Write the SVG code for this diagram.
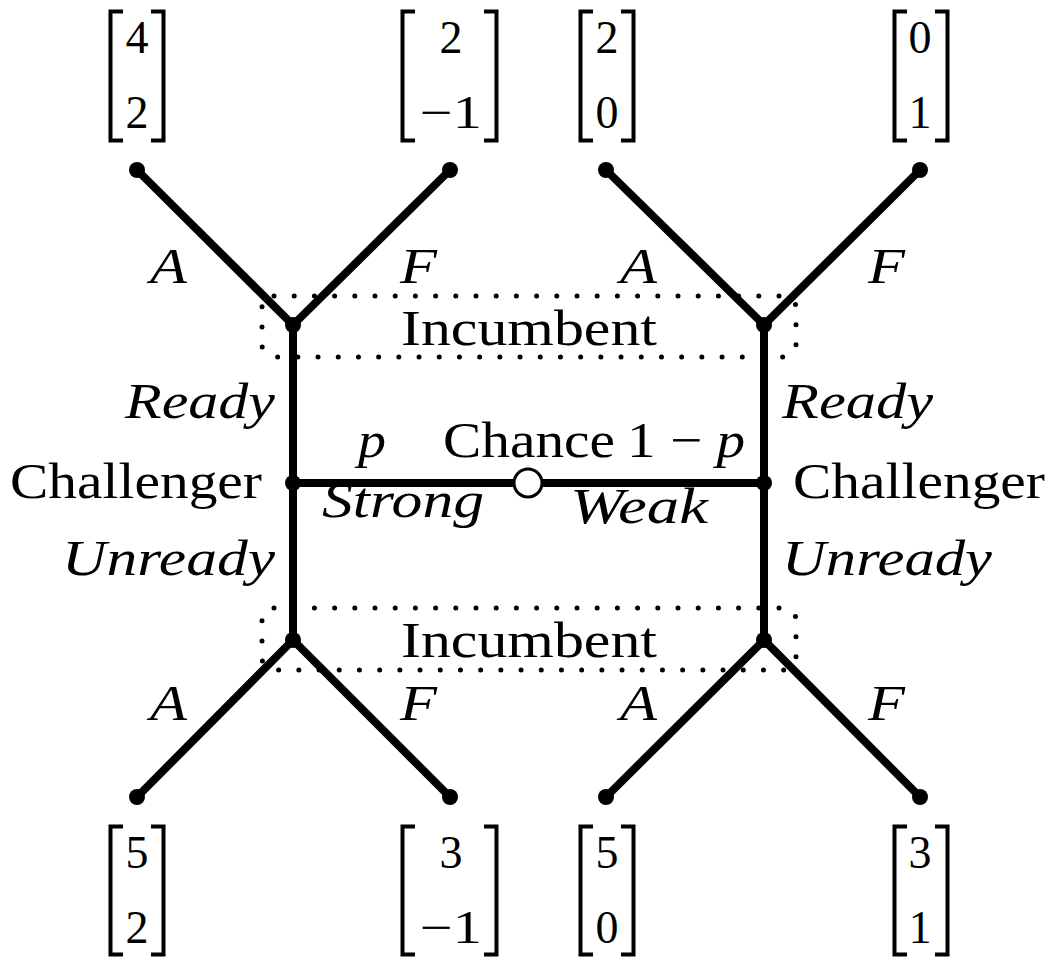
<svg xmlns="http://www.w3.org/2000/svg" width="1054" height="958" viewBox="0 0 1054 958">
<rect width="1054" height="958" fill="#fff"/>
<g id="infosets" fill="none" stroke="#000" stroke-width="5" stroke-linecap="round" stroke-dasharray="0 20.2">
<rect x="262" y="296" width="534" height="61" rx="12"/>
<rect x="262" y="608" width="534" height="62" rx="12"/>
</g>
<g id="connectors" stroke="#000" stroke-width="8" fill="none" stroke-linecap="round">
<line x1="293" y1="325" x2="137" y2="170"/>
<line x1="293" y1="325" x2="450" y2="170"/>
<line x1="764" y1="325" x2="606" y2="170"/>
<line x1="764" y1="325" x2="920" y2="170"/>
<line x1="293" y1="640" x2="137" y2="797"/>
<line x1="293" y1="640" x2="450" y2="797"/>
<line x1="764" y1="640" x2="606" y2="797"/>
<line x1="764" y1="640" x2="920" y2="797"/>
<line x1="293" y1="325" x2="293" y2="640"/>
<line x1="764" y1="325" x2="764" y2="640"/>
<line x1="293" y1="483" x2="514" y2="483"/>
<line x1="542" y1="483" x2="764" y2="483"/>
</g>
<g font-family="Liberation Serif" font-size="50" fill="#000">
<g id="chance">
<circle cx="528" cy="483" r="14" fill="#fff" stroke="#000" stroke-width="3"/>
<text text-anchor="middle" x="529" y="457" textLength="172" lengthAdjust="spacingAndGlyphs">Chance</text>
</g>
<g id="challenger-left">
<circle cx="293" cy="483" r="8"/>
<text x="10" y="498" textLength="252" lengthAdjust="spacingAndGlyphs">Challenger</text>
</g>
<g id="challenger-right">
<circle cx="764" cy="483" r="8"/>
<text x="793" y="498" textLength="252" lengthAdjust="spacingAndGlyphs">Challenger</text>
</g>
<g id="incumbent-top">
<circle cx="293" cy="325" r="8"/>
<circle cx="764" cy="325" r="8"/>
<text x="401" y="345" textLength="256" lengthAdjust="spacingAndGlyphs">Incumbent</text>
</g>
<g id="incumbent-bottom">
<circle cx="293" cy="640" r="8"/>
<circle cx="764" cy="640" r="8"/>
<text x="401" y="657" textLength="256" lengthAdjust="spacingAndGlyphs">Incumbent</text>
</g>
<g id="leaves">
<circle cx="137" cy="170" r="8"/>
<circle cx="450" cy="170" r="8"/>
<circle cx="606" cy="170" r="8"/>
<circle cx="920" cy="170" r="8"/>
<circle cx="137" cy="797" r="8"/>
<circle cx="450" cy="797" r="8"/>
<circle cx="606" cy="797" r="8"/>
<circle cx="920" cy="797" r="8"/>
</g>
<g id="edge-labels" font-style="italic">
<text x="150" y="283" textLength="37" lengthAdjust="spacingAndGlyphs">A</text>
<text x="400" y="283" textLength="37" lengthAdjust="spacingAndGlyphs">F</text>
<text x="620" y="283" textLength="37" lengthAdjust="spacingAndGlyphs">A</text>
<text x="868" y="283" textLength="37" lengthAdjust="spacingAndGlyphs">F</text>
<text x="150" y="720" textLength="37" lengthAdjust="spacingAndGlyphs">A</text>
<text x="400" y="720" textLength="37" lengthAdjust="spacingAndGlyphs">F</text>
<text x="620" y="720" textLength="37" lengthAdjust="spacingAndGlyphs">A</text>
<text x="868" y="720" textLength="37" lengthAdjust="spacingAndGlyphs">F</text>
<text x="125" y="418" textLength="150" lengthAdjust="spacingAndGlyphs">Ready</text>
<text x="782" y="418" textLength="151" lengthAdjust="spacingAndGlyphs">Ready</text>
<text x="62" y="575" textLength="213" lengthAdjust="spacingAndGlyphs">Unready</text>
<text x="782" y="575" textLength="210" lengthAdjust="spacingAndGlyphs">Unready</text>
<text x="358" y="457" textLength="28" lengthAdjust="spacingAndGlyphs">p</text>
<text font-style="normal" x="627" y="457" textLength="118" lengthAdjust="spacingAndGlyphs">1 − <tspan font-style="italic">p</tspan></text>
<text x="322" y="517" textLength="162" lengthAdjust="spacingAndGlyphs">Strong</text>
<text x="570" y="523" textLength="138" lengthAdjust="spacingAndGlyphs">Weak</text>
</g>
<g font-size="46" text-anchor="middle">
<g id="payoff-tl">
<path fill="none" stroke="#000" stroke-width="4" d="M123 11.5H110.5V140.5H123M151 11.5H163.5V140.5H151"/>
<text x="137" y="53">4</text>
<text x="137" y="128">2</text>
</g>
<g id="payoff-t2">
<path fill="none" stroke="#000" stroke-width="4" d="M415 11.5H402.5V140.5H415M484 11.5H496.5V140.5H484"/>
<text x="451" y="53">2</text>
<text x="451" y="128" textLength="62" lengthAdjust="spacingAndGlyphs">−1</text>
</g>
<g id="payoff-t3">
<path fill="none" stroke="#000" stroke-width="4" d="M593 11.5H580.5V140.5H593M621 11.5H633.5V140.5H621"/>
<text x="607" y="53">2</text>
<text x="607" y="128">0</text>
</g>
<g id="payoff-t4">
<path fill="none" stroke="#000" stroke-width="4" d="M907 11.5H894.5V140.5H907M935 11.5H947.5V140.5H935"/>
<text x="920" y="53">0</text>
<text x="920" y="128">1</text>
</g>
<g id="payoff-bl">
<path fill="none" stroke="#000" stroke-width="4" d="M123 826.5H110.5V954.5H123M151 826.5H163.5V954.5H151"/>
<text x="137" y="868">5</text>
<text x="137" y="943">2</text>
</g>
<g id="payoff-b2">
<path fill="none" stroke="#000" stroke-width="4" d="M415 826.5H402.5V954.5H415M484 826.5H496.5V954.5H484"/>
<text x="451" y="868">3</text>
<text x="451" y="943" textLength="62" lengthAdjust="spacingAndGlyphs">−1</text>
</g>
<g id="payoff-b3">
<path fill="none" stroke="#000" stroke-width="4" d="M593 826.5H580.5V954.5H593M621 826.5H633.5V954.5H621"/>
<text x="607" y="868">5</text>
<text x="607" y="943">0</text>
</g>
<g id="payoff-b4">
<path fill="none" stroke="#000" stroke-width="4" d="M907 826.5H894.5V954.5H907M935 826.5H947.5V954.5H935"/>
<text x="920" y="868">3</text>
<text x="920" y="943">1</text>
</g>
</g>
</g>
</svg>
